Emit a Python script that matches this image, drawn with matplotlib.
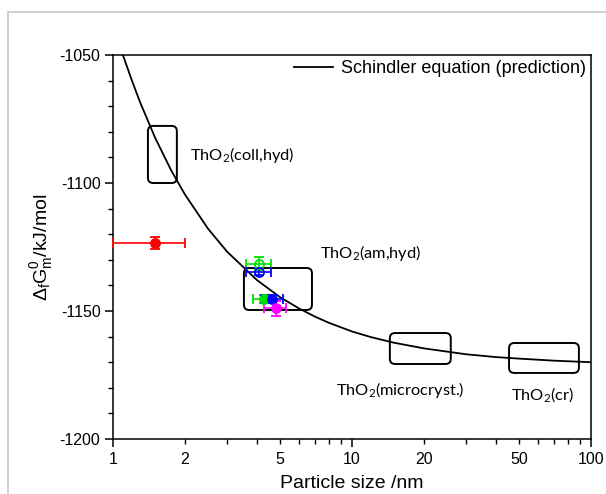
import matplotlib
matplotlib.use("Agg")
import matplotlib.pyplot as plt
from matplotlib.patches import FancyBboxPatch, Rectangle
from matplotlib.ticker import FixedLocator, FuncFormatter, MultipleLocator

plt.rcParams['font.family'] = ['Liberation Sans', 'DejaVu Sans']
plt.rcParams['mathtext.default'] = 'regular'
plt.rcParams['axes.unicode_minus'] = False

# Schindler equation curve
curve_d = [1.1, 1.2, 1.3, 1.5, 1.75, 2, 2.5, 3, 4, 5, 6, 7, 8, 10, 12, 15, 20, 30, 40, 50, 70, 100]
curve_g = [-1050, -1060, -1068.6, -1082.3, -1095, -1104.5, -1117.9, -1126.8, -1137.9, -1144.6,
           -1149, -1152.2, -1154.6, -1158, -1160.2, -1162.4, -1164.6, -1166.9, -1168, -1168.6,
           -1169.4, -1170]

# Experimental points: x, y, x-low, x-high, y-err, color, filled
pt_x = [1.5, 4.07, 4.09, 4.30, 4.61, 4.80]
pt_y = [-1123.5, -1131.6, -1134.6, -1145.4, -1145.3, -1148.9]
pt_xlo = [1.0, 3.6, 3.6, 3.86, 4.18, 4.29]
pt_xhi = [2.0, 4.58, 4.58, 4.65, 5.13, 5.28]
pt_yerr = [2.3, 2.5, 1.5, 1.5, 1.7, 3.0]
pt_color = ['#ff0000', '#00e000', '#0000ff', '#00e000', '#0000ff', '#ff00ff']
pt_filled = [True, False, False, True, True, True]

# Phase boxes: (x0, x1, y0, y1)
box_x0 = [1.40, 3.53, 14.4, 45.4]
box_x1 = [1.85, 6.8, 25.9, 89.0]
box_y0 = [-1100, -1149.6, -1170.7, -1174.2]
box_y1 = [-1077.7, -1133.2, -1158.6, -1162.5]

# Phase labels
lab_text = [r'ThO$_2$(coll,hyd)', r'ThO$_2$(am,hyd)', r'ThO$_2$(microcryst.)', r'ThO$_2$(cr)']
lab_x = [2.10, 7.35, 8.57, 46.3]
lab_y = [-1089, -1127.3, -1180.9, -1182.8]

xtick_major = [1, 10, 100]
xtick_labeled = [1, 2, 5, 10, 20, 50, 100]
ytick_major = [-1200, -1150, -1100, -1050]

W, H = 606, 494
fig = plt.figure(figsize=(W / 100, H / 100), dpi=100)
L, R, T, B = 113, 591, 55, 439
ax = fig.add_axes([L / W, 1 - B / H, (R - L) / W, (B - T) / H])

ax.plot(curve_d, curve_g, color='black', lw=1.3, label='Schindler equation (prediction)', zorder=3)

for x, y, xl, xh, ye, c, f in zip(pt_x, pt_y, pt_xlo, pt_xhi, pt_yerr, pt_color, pt_filled):
    ax.errorbar([x], [y], xerr=[[x - xl], [xh - x]], yerr=[[ye], [ye]], fmt='o', color=c,
                ecolor=c, elinewidth=1.2, capsize=3.5, capthick=1.2, markersize=6.5,
                markerfacecolor=c if f else 'none', markeredgewidth=1.3, zorder=4, clip_on=False)

ax.set_xscale('log')
ax.set_xlim(1, 100)
ax.set_ylim(-1200, -1050)

fig.canvas.draw()
aw, ah = R - L, B - T
for x0, x1, y0, y1 in zip(box_x0, box_x1, box_y0, box_y1):
    p0 = ax.transAxes.inverted().transform(ax.transData.transform((x0, y0)))
    p1 = ax.transAxes.inverted().transform(ax.transData.transform((x1, y1)))
    ax.add_patch(FancyBboxPatch((p0[0], p0[1]), p1[0] - p0[0], p1[1] - p0[1],
                                boxstyle='round,pad=0,rounding_size=0.011',
                                mutation_aspect=aw / ah, transform=ax.transAxes,
                                fill=False, ec='black', lw=1.4, zorder=2))

for t, x, y in zip(lab_text, lab_x, lab_y):
    ax.text(x, y, t, fontsize=11.8, family=['Lato', 'DejaVu Sans'], ha='left', va='center')

ax.xaxis.set_major_locator(FixedLocator(xtick_major))
ax.xaxis.set_major_formatter(FuncFormatter(lambda v, p: f'{v:g}'))
minors = [m * d for d in (1, 10) for m in range(2, 10)]
ax.xaxis.set_minor_locator(FixedLocator(minors))
ax.xaxis.set_minor_formatter(FuncFormatter(lambda v, p: f'{v:g}' if round(v) in xtick_labeled else ''))
ax.yaxis.set_major_locator(FixedLocator(ytick_major))
ax.yaxis.set_minor_locator(MultipleLocator(10))

ax.tick_params(which='major', direction='out', length=6, width=1.1, labelsize=11.5, pad=3)
ax.tick_params(which='minor', direction='out', length=3.5, width=1.0, labelsize=11.5)
ax.tick_params(axis='x', which='minor', pad=5.5)
ax.tick_params(axis='y', which='major', pad=3)
for s in ax.spines.values():
    s.set_linewidth(1.1)

ax.set_xlabel('Particle size /nm', fontsize=14, labelpad=6)
ax.set_ylabel(r'$\Delta_f G^0_m$/kJ/mol', fontsize=14)
ax.yaxis.set_label_coords(-0.122, 0.5)

ax.legend(loc='upper right', frameon=False, fontsize=13, handlelength=2.2, handletextpad=0.4,
          borderaxespad=0.1, borderpad=0.2)

fig.add_artist(Rectangle((8 / W, -0.1), 1.2, 1 - 12 / H + 0.1, transform=fig.transFigure,
                         fill=False, ec='#c8c8c8', lw=1.2))

fig.savefig('out.png', dpi=100)
